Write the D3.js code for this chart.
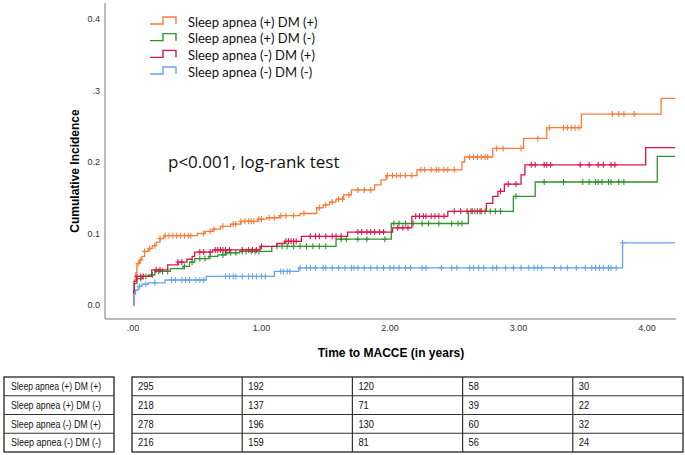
<!DOCTYPE html>
<html>
<head>
<meta charset="utf-8">
<script src="https://cdn.jsdelivr.net/npm/d3@7"></script>
<style>
  body { margin: 0; background: #fff; }
  svg { display: block; }
</style>
</head>
<body>
<svg id="chart" width="685" height="455"></svg>
<script>
  // group names, legend order
  const groups = ['Sleep apnea (+) DM (+)', 'Sleep apnea (+) DM (-)', 'Sleep apnea (-) DM (+)', 'Sleep apnea (-) DM (-)'];
  const colors = ['#fb7b3a', '#2e952e', '#df1446', '#67a3ec'];

  // step points [years, cumulative incidence]
  const saDm = [[0, 0], [0.005, 0.02], [0.01, 0.035], [0.02, 0.045], [0.03, 0.058], [0.05, 0.063], [0.07, 0.068],
    [0.09, 0.075], [0.12, 0.079], [0.15, 0.083], [0.18, 0.088], [0.21, 0.093], [0.24, 0.097], [0.5, 0.1],
    [0.56, 0.103], [0.62, 0.106], [0.68, 0.11], [0.76, 0.113], [0.84, 0.117], [0.97, 0.12], [1.04, 0.122],
    [1.14, 0.125], [1.3, 0.128], [1.43, 0.136], [1.48, 0.14], [1.53, 0.144], [1.58, 0.148], [1.64, 0.154],
    [1.7, 0.161], [1.88, 0.168], [1.93, 0.175], [1.97, 0.181], [2.21, 0.189], [2.56, 0.2], [2.58, 0.207],
    [2.8, 0.219], [3.04, 0.233], [3.22, 0.248], [3.49, 0.267], [4.11, 0.289], [4.22, 0.289]];
  const saNoDm = [[0, 0], [0.005, 0.018], [0.01, 0.03], [0.03, 0.037], [0.07, 0.04], [0.12, 0.042], [0.17, 0.047],
    [0.29, 0.051], [0.39, 0.054], [0.44, 0.06], [0.48, 0.065], [0.59, 0.068], [0.66, 0.07], [0.72, 0.073],
    [0.83, 0.075], [1.08, 0.082], [1.58, 0.092], [2.01, 0.114], [2.61, 0.131], [2.96, 0.152], [3.13, 0.172],
    [4.08, 0.208], [4.22, 0.208]];
  const noSaDm = [[0, 0], [0.005, 0.02], [0.01, 0.033], [0.03, 0.04], [0.146, 0.049], [0.27, 0.056], [0.35, 0.06],
    [0.42, 0.064], [0.46, 0.068], [0.48, 0.074], [0.62, 0.077], [0.99, 0.082], [1.12, 0.086], [1.18, 0.089],
    [1.31, 0.096], [1.67, 0.102], [2.02, 0.108], [2.17, 0.124], [2.45, 0.131], [2.75, 0.142], [2.8, 0.152],
    [2.84, 0.159], [2.89, 0.169], [3.02, 0.182], [3.05, 0.196], [3.99, 0.22], [4.22, 0.22]];
  const noSaNoDm = [[0, 0], [0.005, 0.015], [0.02, 0.021], [0.04, 0.026], [0.07, 0.029], [0.12, 0.031],
    [0.25, 0.035], [0.57, 0.04], [1.1, 0.047], [1.29, 0.052], [3.81, 0.087], [4.22, 0.087]];

  // censored times (years)
  const censSaDm = [0.04, 0.06, 0.09, 0.13, 0.17, 0.21, 0.25, 0.28, 0.31, 0.34, 0.37, 0.4, 0.43, 0.45, 0.55, 0.6,
    0.63, 0.7, 0.78, 0.8, 0.84, 0.87, 0.9, 0.92, 0.94, 0.98, 1.0, 1.06, 1.1, 1.15, 1.19, 1.25, 1.33, 1.45, 1.5,
    1.55, 1.6, 1.63, 1.68, 1.75, 1.8, 1.85, 1.98, 2.02, 2.05, 2.08, 2.12, 2.17, 2.24, 2.27, 2.32, 2.36, 2.38,
    2.42, 2.45, 2.5, 2.62, 2.65, 2.68, 2.71, 2.74, 2.76, 2.83, 2.88, 3.02, 3.15, 3.24, 3.35, 3.38, 3.41, 3.44,
    3.47, 3.73, 3.78, 3.82, 3.9];
  const censSaNoDm = [0.06, 0.1, 0.15, 0.2, 0.23, 0.27, 0.4, 0.46, 0.52, 0.56, 0.6, 0.7, 0.73, 0.76, 0.8, 0.85,
    0.88, 0.92, 0.95, 0.98, 1.12, 1.16, 1.2, 1.25, 1.3, 1.35, 1.4, 1.45, 1.5, 1.62, 1.66, 1.75, 1.82, 1.96, 2.03,
    2.07, 2.12, 2.18, 2.25, 2.3, 2.38, 2.48, 2.53, 2.56, 2.63, 2.66, 2.7, 2.74, 2.78, 2.82, 2.86, 2.98, 3.2,
    3.35, 3.5, 3.55, 3.6, 3.62, 3.65, 3.7, 3.72, 3.78, 3.82];
  const censNoSaDm = [0.03, 0.06, 0.08, 0.18, 0.21, 0.35, 0.38, 0.52, 0.55, 0.6, 0.64, 0.66, 0.68, 0.7, 0.72,
    0.75, 0.85, 0.9, 0.93, 0.96, 1.0, 1.19, 1.21, 1.23, 1.25, 1.27, 1.38, 1.42, 1.45, 1.5, 1.55, 1.58, 1.62,
    1.75, 1.78, 1.82, 1.85, 1.88, 1.92, 1.95, 2.06, 2.1, 2.14, 2.2, 2.23, 2.26, 2.28, 2.32, 2.35, 2.38, 2.42,
    2.5, 2.55, 2.6, 2.64, 2.68, 2.71, 2.86, 2.92, 2.98, 3.1, 3.13, 3.2, 3.22, 3.25, 3.48, 3.55, 3.62, 3.66,
    3.72, 3.75];
  const censNoSaNoDm = [0.05, 0.1, 0.17, 0.3, 0.33, 0.38, 0.41, 0.44, 0.49, 0.52, 0.55, 0.72, 0.75, 0.78, 0.8,
    0.85, 0.9, 0.93, 0.96, 1.0, 1.03, 1.15, 1.17, 1.2, 1.22, 1.3, 1.35, 1.38, 1.42, 1.48, 1.5, 1.55, 1.6, 1.65,
    1.7, 1.72, 1.75, 1.8, 1.85, 1.9, 1.95, 2.0, 2.03, 2.07, 2.12, 2.16, 2.25, 2.28, 2.4, 2.48, 2.52, 2.62, 2.65,
    2.69, 2.73, 2.8, 2.83, 2.9, 2.96, 3.02, 3.08, 3.12, 3.15, 3.18, 3.28, 3.33, 3.38, 3.45, 3.52, 3.57, 3.6,
    3.63, 3.66, 3.7, 3.72, 3.76, 3.81];

  const xTicks = [0, 1, 2, 3, 4];
  const xTickLabels = ['.00', '1.00', '2.00', '3.00', '4.00'];
  const yTicks = [0, 0.1, 0.2, 0.3, 0.4];
  const yTickLabels = ['0.0', '0.1', '0.2', '.3', '0.4'];

  // numbers at risk, per group, per column
  const atRisk = [[295, 192, 120, 58, 30], [218, 137, 71, 39, 22], [278, 196, 130, 60, 32], [216, 159, 81, 56, 24]];

  const steps = [saDm, saNoDm, noSaDm, noSaNoDm];
  const cens = [censSaDm, censSaNoDm, censNoSaDm, censNoSaNoDm];

  const svg = d3.select('#chart');
  const x = d3.scaleLinear().domain([0, 4]).range([133, 647]);
  const y = d3.scaleLinear().domain([0, 0.4]).range([305, 19]);
  const axisX0 = 105, axisY0 = 319, axisXEnd = 676;

  // axes lines (SPSS style, no ticks)
  svg.append('line').attr('x1', axisX0).attr('x2', axisX0).attr('y1', 3).attr('y2', axisY0)
    .style('stroke', '#a6a6a6').style('stroke-width', 1.5);
  svg.append('line').attr('x1', axisX0).attr('x2', axisXEnd).attr('y1', axisY0).attr('y2', axisY0)
    .style('stroke', '#a6a6a6').style('stroke-width', 1.5);

  svg.selectAll('.yLab').data(yTicks).enter().append('text')
    .attr('class', 'yLab')
    .attr('x', 100).attr('y', d => y(d))
    .attr('dy', '0.35em')
    .style('text-anchor', 'end')
    .style('font', '9px "Liberation Sans", Arial, sans-serif')
    .style('fill', '#333')
    .text((d, i) => yTickLabels[i]);

  svg.selectAll('.xLab').data(xTicks).enter().append('text')
    .attr('class', 'xLab')
    .attr('x', d => x(d)).attr('y', 331)
    .style('text-anchor', 'middle')
    .style('font', '9px "Liberation Sans", Arial, sans-serif')
    .style('fill', '#333')
    .text((d, i) => xTickLabels[i]);

  svg.append('text')
    .attr('x', 391).attr('y', 357)
    .style('text-anchor', 'middle')
    .style('font', 'bold 12px "Liberation Sans", Arial, sans-serif')
    .text('Time to MACCE (in years)');

  svg.append('text')
    .attr('transform', 'translate(79,171) rotate(-90)')
    .style('text-anchor', 'middle')
    .style('font', 'bold 12px "Liberation Sans", Arial, sans-serif')
    .text('Cumulative Incidence');

  svg.append('text')
    .attr('x', 168).attr('y', 168)
    .style('font', '17px "Open Sans", sans-serif')
    .style('fill', '#111')
    .text('p<0.001, log-rank test');

  // curves
  const line = d3.line().x(d => x(d[0])).y(d => y(d[1])).curve(d3.curveStepAfter);
  const bis = d3.bisector(d => d[0]).right;

  steps.forEach((s, g) => {
    svg.append('path')
      .datum(s)
      .attr('d', line)
      .style('fill', 'none')
      .style('stroke', colors[g])
      .style('stroke-width', 1.3);

    const marks = svg.append('g').style('stroke', colors[g]).style('stroke-width', 1.1);
    cens[g].forEach(t => {
      const v = s[Math.max(0, bis(s, t) - 1)][1];
      marks.append('line').attr('x1', x(t)).attr('x2', x(t)).attr('y1', y(v) - 3).attr('y2', y(v) + 3);
      marks.append('line').attr('x1', x(t) - 2.5).attr('x2', x(t) + 2.5).attr('y1', y(v)).attr('y2', y(v));
    });
  });

  // legend
  const legend = svg.append('g');
  const legendY = d3.scalePoint().domain(groups).range([22, 72]);
  groups.forEach((name, g) => {
    const ly = legendY(name);
    legend.append('path')
      .attr('d', `M150,${ly + 2}H163V${ly - 5}H176V${ly + 2}`)
      .style('fill', 'none').style('stroke', colors[g]).style('stroke-width', 1.4);
    legend.append('text')
      .attr('x', 188).attr('y', ly).attr('dy', '0.35em')
      .style('font', '13px Lato, sans-serif')
      .style('fill', '#111')
      .text(name);
  });

  // numbers at risk table
  const rowY = d3.scaleBand().domain(d3.range(4)).range([377, 452]);
  const colX = d3.scaleBand().domain(d3.range(5)).range([132, 683]);
  const tbl = svg.append('g').style('font', '10.5px "Liberation Sans", sans-serif').style('fill', '#111');

  tbl.append('rect').attr('x', 4).attr('y', 377).attr('width', 110).attr('height', 75)
    .style('fill', 'none').style('stroke', '#333').style('stroke-width', 1.4);
  tbl.append('rect').attr('x', 132).attr('y', 377).attr('width', 551).attr('height', 75)
    .style('fill', 'none').style('stroke', '#333').style('stroke-width', 1.4);

  d3.range(1, 4).forEach(r => {
    tbl.append('line').attr('x1', 4).attr('x2', 114).attr('y1', rowY(r)).attr('y2', rowY(r))
      .style('stroke', '#333').style('stroke-width', 1.2);
    tbl.append('line').attr('x1', 132).attr('x2', 683).attr('y1', rowY(r)).attr('y2', rowY(r))
      .style('stroke', '#333').style('stroke-width', 1.2);
  });
  d3.range(1, 5).forEach(c => {
    tbl.append('line').attr('x1', colX(c)).attr('x2', colX(c)).attr('y1', 377).attr('y2', 452)
      .style('stroke', '#333').style('stroke-width', 1.2);
  });

  groups.forEach((name, r) => {
    tbl.append('text')
      .attr('x', 11).attr('y', rowY(r) + rowY.bandwidth() / 2).attr('dy', '0.35em')
      .attr('textLength', 90).attr('lengthAdjust', 'spacingAndGlyphs')
      .text(name);
    atRisk[r].forEach((n, c) => {
      tbl.append('text')
        .attr('x', colX(c) + 6).attr('y', rowY(r) + rowY.bandwidth() / 2).attr('dy', '0.35em')
        .attr('textLength', String(n).length * 5.2).attr('lengthAdjust', 'spacingAndGlyphs')
        .text(n);
    });
  });
</script>
</body>
</html>
